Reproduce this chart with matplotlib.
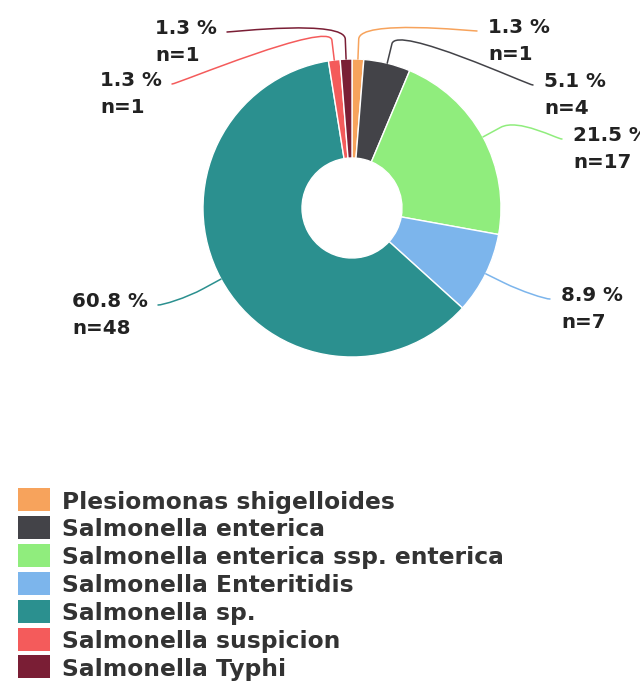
import numpy as np
import matplotlib
matplotlib.use("Agg")
import matplotlib.pyplot as plt
from matplotlib.path import Path
from matplotlib.patches import PathPatch, Rectangle

# ---- data ----
categories = ["Plesiomonas shigelloides", "Salmonella enterica",
              "Salmonella enterica ssp. enterica", "Salmonella Enteritidis",
              "Salmonella sp.", "Salmonella suspicion", "Salmonella Typhi"]
counts = [1, 4, 17, 7, 48, 1, 1]
colors = ["#f7a35c", "#434348", "#90ed7d", "#7cb5ec", "#2b908f", "#f45b5b", "#7a1e35"]

# ---- layout (pixel coords, origin top-left) ----
W, H = 640, 683
CX, CY = 352, 208
R_OUT, R_IN = 149, 50
BREAK_EXTRA = 20
# end points of the connector lines, near each label
label_ends = [(477, 31), (533, 85), (562, 139), (550, 299), (158, 305), (172, 84), (227, 32)]
label_side = ["right", "right", "right", "right", "left", "left", "left"]

fig = plt.figure(figsize=(W / 100, H / 100), dpi=100)
ax = fig.add_axes([0, 0, 1, 1])


def py(y):
    return H - y


wedges, _ = ax.pie(counts, colors=colors, startangle=90, counterclock=False,
                   center=(CX, py(CY)), radius=R_OUT,
                   wedgeprops=dict(width=R_OUT - R_IN, edgecolor="white", linewidth=1.0))
ax.set_xlim(0, W)
ax.set_ylim(0, H)
ax.set_aspect("equal")
ax.axis("off")

total = sum(counts)
cum = np.cumsum([0] + counts)
for i, v in enumerate(counts):
    frac_mid = (cum[i] + cum[i + 1]) / 2 / total
    ang = np.deg2rad(90 - 360 * frac_mid)
    tx, ty = CX + R_OUT * np.cos(ang), py(CY) + R_OUT * np.sin(ang)
    bx, by = CX + (R_OUT + BREAK_EXTRA) * np.cos(ang), py(CY) + (R_OUT + BREAK_EXTRA) * np.sin(ang)
    lx, ly = label_ends[i][0], py(label_ends[i][1])
    side = label_side[i]
    c1x = lx - 5 if side == "right" else lx + 5
    verts = [(lx, ly), (c1x, ly), (2 * bx - tx, 2 * by - ty), (bx, by), (tx, ty)]
    codes = [Path.MOVETO, Path.CURVE4, Path.CURVE4, Path.CURVE4, Path.LINETO]
    ax.add_patch(PathPatch(Path(verts, codes), facecolor="none", edgecolor=colors[i],
                           lw=1.1, capstyle="round"))
    pct = 100 * v / total
    txt = f"{pct:.1f} %\nn={v}"
    if side == "right":
        ax.text(lx + 11, ly - 10, txt, ha="left", va="center", fontsize=14.3,
                fontweight="bold", color="#222222", linespacing=1.5)
    else:
        ax.text(lx - 10, ly - 10, txt, ha="right", va="center", fontsize=14.3,
                fontweight="bold", color="#222222", linespacing=1.5,
                multialignment="left")

# ---- legend ----
LEG_X, LEG_Y0, LEG_DY = 18, 499.5, 27.9
for i, (cat, col) in enumerate(zip(categories, colors)):
    yc = LEG_Y0 + i * LEG_DY
    ax.add_patch(Rectangle((LEG_X, py(yc) - 11.5), 32, 23, facecolor=col, edgecolor="none"))
    ax.text(62, py(yc), cat, ha="left", va="center_baseline", fontsize=16.8,
            fontweight="bold", color="#333333")

fig.savefig("out.png", dpi=100)
